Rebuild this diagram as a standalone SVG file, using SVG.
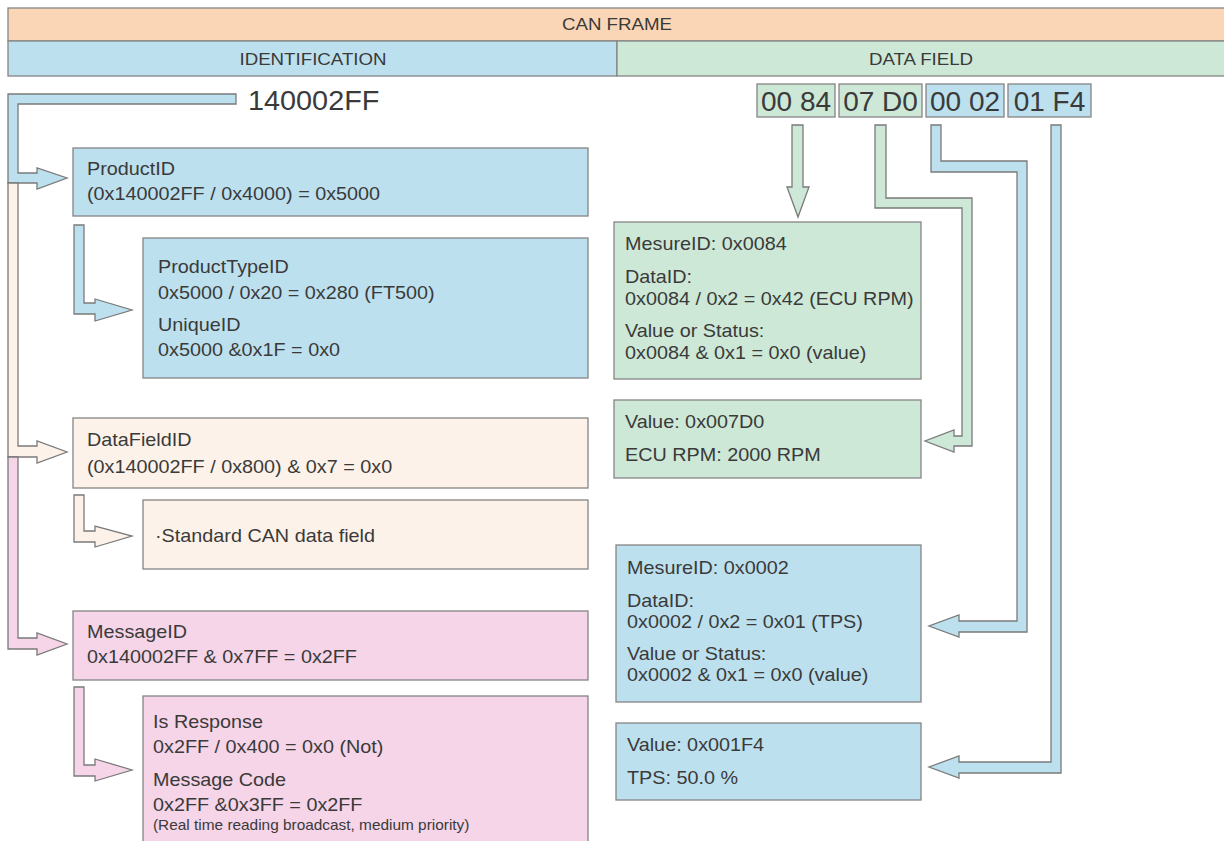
<svg xmlns="http://www.w3.org/2000/svg" width="1224" height="841" viewBox="0 0 1224 841">
<style>
.bx{stroke:#858585;stroke-width:1.3}
.pe{fill:#FBD6B6}.bl{fill:#BDE0EE}.gr{fill:#CDE8D6}.lp{fill:#FDF2E9}.pk{fill:#F5D5E7}
text{font-family:"Liberation Sans",Arial,sans-serif;fill:#3a3a3a;font-size:18px}
.h{font-size:17px;text-anchor:middle}
.big{font-size:28px}
.byte{font-size:28px;text-anchor:middle}
.sm{font-size:14px}
.ar{stroke:#7a7a7a;stroke-width:1.3;stroke-linejoin:miter}
</style>
<rect width="1224" height="841" fill="#fff"/>
<g id="can-frame">
<rect class="bx pe" x="8" y="8" width="1222" height="33"/>
<g transform="translate(617 0) scale(1.1 1)"><text class="h" x="0" y="30">CAN FRAME</text></g>
</g>
<g id="identification">
<rect class="bx bl" x="8" y="41" width="609" height="35"/>
<g transform="translate(313 0) scale(1.1 1)"><text class="h" x="0" y="65">IDENTIFICATION</text></g>
</g>
<g id="data-field">
<rect class="bx gr" x="617" y="41" width="613" height="35"/>
<g transform="translate(921 0) scale(1.1 1)"><text class="h" x="0" y="65">DATA FIELD</text></g>
</g>
<g id="can-id">
<g transform="translate(248 0) scale(1.03 1)"><text class="big" x="0" y="110">140002FF</text></g>
</g>
<g id="byte-0084">
<rect class="bx gr" x="757" y="84" width="78" height="33"/>
<text class="byte" x="796" y="111">00 84</text>
</g>
<g id="byte-07D0">
<rect class="bx gr" x="839" y="84" width="83" height="33"/>
<text class="byte" x="880.5" y="111">07 D0</text>
</g>
<g id="byte-0002">
<rect class="bx bl" x="926" y="84" width="78" height="33"/>
<text class="byte" x="965" y="111">00 02</text>
</g>
<g id="byte-01F4">
<rect class="bx bl" x="1008" y="84" width="83" height="33"/>
<text class="byte" x="1049.5" y="111">01 F4</text>
</g>

<g id="connectors">
<path class="ar bl" d="M8,94 H236 V104 H18 V173 H37 V168 L67,178 L37,189 V183 H8 Z"/>
<path class="ar lp" d="M8,183 H18 V446 H37 V441 L67,452 L37,463 V457 H8 Z"/>
<path class="ar pk" d="M8,457 H18 V638 H37 V633 L67,644 L37,655 V649 H8 Z"/>
<path class="ar bl" d="M74,225 H84 V303 H95 V299 L132,310 L95,321 V314 H74 Z"/>
<path class="ar lp" d="M74,495 H84 V531 H95 V526 L132,536 L95,547 V542 H74 Z"/>
<path class="ar pk" d="M74,687 H84 V765 H95 V759 L132,770 L95,781 V776 H74 Z"/>
<path class="ar gr" d="M792,125 H803 V187 H809 L798,217 L787,187 H792 Z"/>
<path class="ar gr" d="M875,125 H886 V198 H972 V446 H954 V452 L925,441 L954,430 V436 H962 V208 H875 Z"/>
<path class="ar bl" d="M931,125 H941 V161 H1027 V632 H959 V637 L929,626 L959,615 V621 H1017 V172 H931 Z"/>
<path class="ar bl" d="M1051,125 H1061 V773 H959 V778 L929,767 L959,756 V762 H1051 Z"/>
</g>

<g id="product-id">
<rect class="bx bl" x="73" y="148" width="515" height="68"/>
<g transform="translate(87 0) scale(1.1 1)">
<text x="0" y="175">ProductID</text>
<text x="0" y="200">(0x140002FF / 0x4000) = 0x5000</text>
</g>
</g>
<g id="product-type-id">
<rect class="bx bl" x="143" y="238" width="445" height="140"/>
<g transform="translate(158 0) scale(1.1 1)">
<text x="0" y="273">ProductTypeID</text>
<text x="0" y="299">0x5000 / 0x20 = 0x280 (FT500)</text>
<text x="0" y="331">UniqueID</text>
<text x="0" y="356">0x5000 &amp;0x1F = 0x0</text>
</g>
</g>
<g id="data-field-id">
<rect class="bx lp" x="73" y="418" width="515" height="70"/>
<g transform="translate(87 0) scale(1.1 1)">
<text x="0" y="446">DataFieldID</text>
<text x="0" y="473">(0x140002FF / 0x800) &amp; 0x7 = 0x0</text>
</g>
</g>
<g id="standard-can">
<rect class="bx lp" x="143" y="500" width="445" height="69"/>
<g transform="translate(155 0) scale(1.1 1)">
<text x="0" y="542">·Standard CAN data field</text>
</g>
</g>
<g id="message-id">
<rect class="bx pk" x="73" y="611" width="515" height="69"/>
<g transform="translate(87 0) scale(1.1 1)">
<text x="0" y="638">MessageID</text>
<text x="0" y="663">0x140002FF &amp; 0x7FF = 0x2FF</text>
</g>
</g>
<g id="message-code">
<rect class="bx pk" x="143" y="696" width="445" height="160"/>
<g transform="translate(153 0) scale(1.1 1)">
<text x="0" y="728">Is Response</text>
<text x="0" y="753">0x2FF / 0x400 = 0x0 (Not)</text>
<text x="0" y="786">Message Code</text>
<text x="0" y="811">0x2FF &amp;0x3FF = 0x2FF</text>
<text class="sm" x="0" y="830">(Real time reading broadcast, medium priority)</text>
</g>
</g>
<g id="mesure-0084">
<rect class="bx gr" x="614" y="222" width="307" height="157"/>
<g transform="translate(625 0) scale(1.1 1)">
<text x="0" y="250">MesureID: 0x0084</text>
<text x="0" y="283">DataID:</text>
<text x="0" y="305">0x0084 / 0x2 = 0x42 (ECU RPM)</text>
<text x="0" y="337">Value or Status:</text>
<text x="0" y="359">0x0084 &amp; 0x1 = 0x0 (value)</text>
</g>
</g>
<g id="value-07D0">
<rect class="bx gr" x="614" y="400" width="307" height="78"/>
<g transform="translate(625 0) scale(1.1 1)">
<text x="0" y="428">Value: 0x007D0</text>
<text x="0" y="461">ECU RPM: 2000 RPM</text>
</g>
</g>
<g id="mesure-0002">
<rect class="bx bl" x="616" y="545" width="305" height="157"/>
<g transform="translate(627 0) scale(1.1 1)">
<text x="0" y="574">MesureID: 0x0002</text>
<text x="0" y="607">DataID:</text>
<text x="0" y="628">0x0002 / 0x2 = 0x01 (TPS)</text>
<text x="0" y="660">Value or Status:</text>
<text x="0" y="681">0x0002 &amp; 0x1 = 0x0 (value)</text>
</g>
</g>
<g id="value-01F4">
<rect class="bx bl" x="616" y="723" width="305" height="77"/>
<g transform="translate(627 0) scale(1.1 1)">
<text x="0" y="751">Value: 0x001F4</text>
<text x="0" y="784">TPS: 50.0 %</text>
</g>
</g>
</svg>
